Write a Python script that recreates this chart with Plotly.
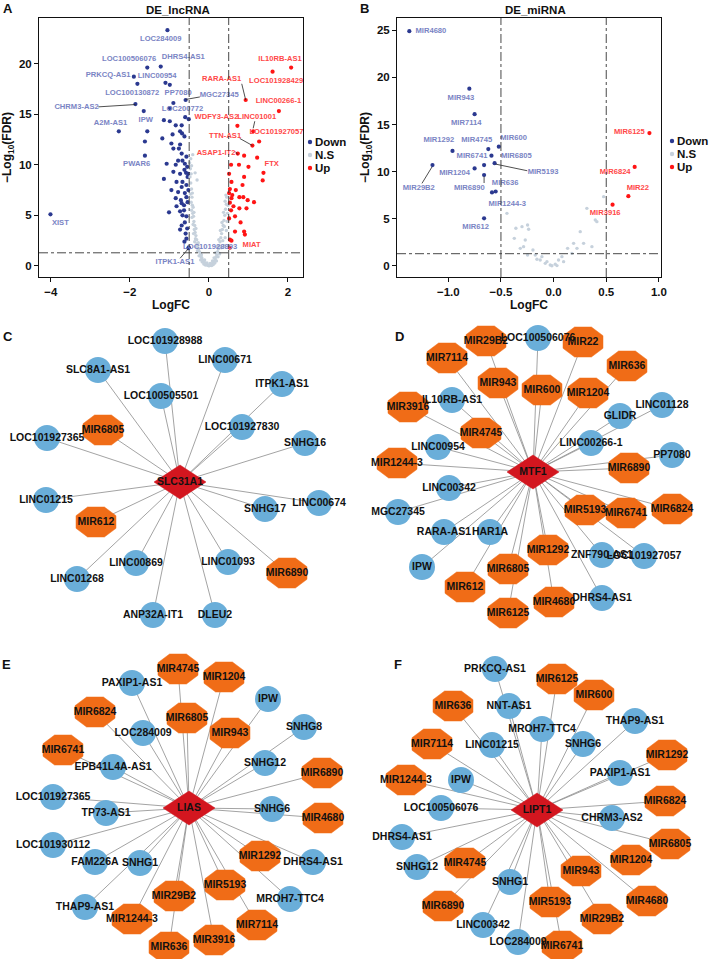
import plotly.graph_objects as go

W, H = 710, 959
FONT = "Liberation Sans, Arial, sans-serif"

# ---------------- A: DE_lncRNA volcano ----------------
a_down_fc = [-1.05, -1.56, -1.22, -1.90, -1.81, -1.10, -0.99, -0.59, -0.90, -1.86,
             -0.99, -1.65, -0.60, -0.51, -1.14, -0.99, -2.28, -1.56, -0.84, -0.69,
             -0.73, -0.68, -0.62, -0.92, -1.18, -1.62, -0.95, -0.73, -0.76, -1.62,
             -0.78, -0.67, -1.07, -0.84, -0.55, -0.62, -0.58, -0.52, -0.54, -1.14,
             -0.82, -0.67, -0.57, -0.95, -0.61, -0.84, -0.71, -0.69, -0.63, -0.63,
             -1.01, -0.73, -0.67, -0.61, -0.73, -0.59, -0.57, -0.52, -0.51, -4.01,
             -0.90, -0.69, -0.57, -0.61, -0.73, -0.90, -0.69, -0.52, -0.78, -0.57,
             -0.54, -0.82, -0.57, -0.69, -0.55, -0.62]
a_down_fdr = [23.3, 19.6, 19.7, 18.7, 18.0, 18.1, 17.9, 16.4, 16.1, 16.0,
              15.6, 15.3, 14.7, 14.5, 14.4, 14.3, 13.3, 13.3, 13.9, 13.9,
              13.3, 13.1, 12.8, 13.0, 12.6, 12.3, 12.1, 12.0, 11.6, 10.9,
              10.4, 10.4, 10.1, 10.0, 9.8, 9.5, 9.2, 9.1, 8.8, 8.6,
              8.3, 8.3, 8.0, 7.5, 7.2, 6.7, 6.5, 6.2, 6.0, 5.5,
              5.3, 5.4, 5.0, 4.3, 3.6, 3.2, 2.7, 1.75, 1.85, 5.1,
              11.6, 11.1, 10.8, 10.1, 9.1, 9.3, 7.8, 7.5, 7.3, 6.8,
              6.3, 5.9, 4.9, 4.0, 3.7, 2.4]

a_up_fc = [2.08, 1.61, 0.93, 1.77, 0.72, 1.12, 1.27, 1.10, 0.89, 0.73,
           1.22, 0.56, 0.76, 1.00, 0.51, 1.38, 1.36, 0.89, 0.57, 0.85,
           0.68, 0.51, 0.57, 0.77, 0.87, 0.98, 1.14, 0.53, 0.62, 0.56,
           0.77, 0.95, 0.51, 0.66, 0.80, 0.66, 0.89, 0.91, 0.53, 0.57,
           0.53, 0.59, 0.53]
a_up_fdr = [19.6, 19.2, 16.4, 15.3, 13.85, 13.3, 12.3, 11.9, 10.9, 11.1,
            10.7, 10.0, 10.0, 9.8, 9.1, 9.2, 8.45, 8.8, 8.3, 8.0,
            7.5, 7.2, 6.7, 6.8, 6.8, 6.5, 6.3, 6.25, 5.9, 5.5,
            5.7, 5.7, 4.7, 4.9, 4.3, 3.4, 3.4, 3.1, 2.6, 2.5,
            1.8, 7.0, 7.6]

a_ns_fc = [-0.49, -0.47, -0.48, -0.45, -0.46, -0.44, -0.47, -0.43, -0.45, -0.42,
           -0.44, -0.40, -0.41, -0.43, -0.39, -0.38, -0.40, -0.36, -0.37, -0.35,
           -0.39, -0.33, -0.34, -0.31, -0.36, -0.30, -0.28, -0.32, -0.26, -0.29,
           -0.24, -0.22, -0.25, -0.20, -0.18, -0.21, -0.16, -0.14, -0.17, -0.12,
           -0.10, -0.13, -0.08, -0.06, -0.09, -0.04, -0.02, -0.05, -0.11, -0.19,
           -0.27, -0.33, -0.38, -0.42, -0.46, -0.44, -0.35, -0.30, -0.41,
           0.00, 0.02, 0.04, 0.06, 0.03, 0.08, 0.10, 0.12, 0.09, 0.14,
           0.16, 0.13, 0.18, 0.20, 0.17, 0.22, 0.24, 0.21, 0.26, 0.28,
           0.25, 0.30, 0.32, 0.29, 0.34, 0.36, 0.33, 0.38, 0.40, 0.37,
           0.42, 0.44, 0.41, 0.45, 0.43, 0.47, 0.46, 0.44, 0.41, 0.39,
           0.35, 0.31, 0.27, 0.23, 0.19, 0.15, 0.11, 0.07, 0.48, 0.39]
a_ns_fdr = [10.2, 9.6, 8.8, 9.1, 8.2, 7.6, 7.1, 6.8, 6.3, 6.0,
            5.5, 5.8, 5.2, 4.8, 4.9, 4.4, 4.1, 4.0, 3.6, 3.3,
            3.2, 3.0, 2.7, 2.6, 2.4, 2.2, 2.0, 1.9, 1.7, 1.5,
            1.4, 1.2, 1.0, 0.9, 0.8, 0.6, 0.6, 0.5, 0.4, 0.35,
            0.3, 0.2, 0.2, 0.15, 0.1, 0.1, 0.05, 0.3, 0.6, 1.1,
            2.3, 3.7, 5.3, 7.2, 10.6, 9.9, 9.2, 8.5, 11.0,
            0.02, 0.05, 0.1, 0.15, 0.25, 0.2, 0.3, 0.4, 0.5, 0.5,
            0.7, 0.8, 0.9, 1.1, 1.3, 1.4, 1.7, 1.9, 2.0, 2.4,
            2.6, 2.8, 3.2, 3.5, 3.6, 4.0, 4.3, 4.5, 5.0, 5.3,
            5.6, 6.1, 6.4, 6.8, 7.0, 5.2, 4.4, 3.5, 2.8, 3.9,
            2.5, 1.8, 1.2, 0.9, 0.5, 0.3, 0.15, 0.05, 6.0, 2.0]

a_lab_down = ["LOC284009", "LOC100506076", "DHRS4-AS1", "PRKCQ-AS1", "LINC00954",
              "LOC100130872", "PP7080", "MGC27345", "CHRM3-AS2", "LOC200772",
              "A2M-AS1", "IPW", "PWAR6", "XIST", "LOC101928893", "ITPK1-AS1"]
a_lab_down_fc = [-1.22, -2.02, -0.65, -2.55, -1.31, -1.94, -0.78, 0.26, -3.35, -0.67,
                 -2.49, -1.60, -1.83, -3.76, 0.03, -0.86]
a_lab_down_fdr = [22.4, 20.4, 20.6, 18.9, 18.75, 17.1, 17.1, 16.9, 15.7, 15.5,
                  14.1, 14.4, 10.1, 4.2, 1.9, 0.43]
a_lab_up = ["IL10RB-AS1", "RARA-AS1", "LOC101928429", "LINC00266-1", "WDFY3-AS2",
            "LINC01001", "LOC101927057", "TTN-AS1", "ASAP1-IT2", "FTX", "MIAT"]
a_lab_up_fc = [1.80, 0.32, 1.70, 1.76, 0.19, 1.21, 1.71, 0.41, 0.18, 1.59, 1.08]
a_lab_up_fdr = [20.4, 18.5, 18.3, 16.3, 14.7, 14.7, 13.2, 12.8, 11.2, 10.1, 2.1]

# leader lines: label end -> point
a_lead_fc0 = [-2.80, -0.23, 0.83, 1.16, 0.78, 0.67, -0.73]
a_lead_fdr0 = [15.72, 16.7, 18.0, 14.3, 12.6, 11.3, 0.76]
a_lead_fc1 = [-1.86, -0.59, 0.93, 1.12, 1.10, 0.73, -0.52]
a_lead_fdr1 = [15.95, 16.45, 16.4, 13.6, 11.9, 11.0, 1.71]

# ---------------- B: DE_miRNA volcano ----------------
b_down_fc = [-1.37, -0.80, -0.75, -0.96, -0.52, -0.62, -0.59, -1.15, -0.75, -0.66,
             -0.56, -0.66, -0.585, -0.55, -0.66]
b_down_fdr = [24.9, 18.8, 16.1, 12.2, 12.65, 12.4, 11.7, 10.7, 10.35, 10.7,
              10.9, 9.65, 7.8, 7.9, 5.05]
b_up_fc = [0.91, 0.77, 0.71, 0.56]
b_up_fdr = [14.1, 10.5, 7.4, 6.5]
b_ns_fc = [-0.443, -0.373, -0.358, -0.30, -0.247, -0.237, -0.285, -0.247, -0.174, -0.316,
           -0.158, -0.127, -0.079, -0.032, 0.016, -0.063, 0.047, 0.079, 0.133, 0.19,
           0.222, 0.253, 0.285, 0.316, 0.364, 0.411, 0.475, 0.174, 0.095, -0.111,
           -0.196, -0.269, -0.016, 0.032, 0.396]
b_ns_fdr = [5.58, 2.93, 4.0, 4.17, 4.35, 3.9, 2.05, 1.17, 1.17, 1.87,
            0.71, 0.64, 0.28, 0.11, 0.18, 0.46, 0.64, 0.99, 1.87, 2.4,
            1.87, 3.64, 2.4, 6.11, 2.05, 4.7, 7.35, 1.34, 0.46, 0.99,
            1.7, 2.76, 0.02, 0.04, 4.88]

b_lab_down = ["MIR4680", "MIR943", "MIR7114", "MIR1292", "MIR4745", "MIR600", "MIR6741",
              "MIR6805", "MIR1204", "MIR5193", "MIR29B2", "MIR6890", "MIR636",
              "MIR1244-3", "MIR612"]
b_lab_down_fc = [-1.165, -0.88, -0.83, -1.09, -0.73, -0.38, -0.775, -0.354, -0.94, -0.10,
                 -1.28, -0.80, -0.46, -0.44, -0.74]
b_lab_down_fdr = [24.9, 17.8, 15.1, 13.3, 13.4, 13.6, 11.7, 11.7, 9.9, 10.0,
                  8.3, 8.3, 8.8, 6.6, 4.1]
b_lab_up = ["MIR6125", "MIR6824", "MIR22", "MIR3916"]
b_lab_up_fc = [0.72, 0.585, 0.80, 0.49]
b_lab_up_fdr = [14.2, 10.0, 8.3, 5.6]

b_lead_fc0 = [-1.25, -0.25, -0.66]
b_lead_fdr0 = [8.76, 10.1, 8.8]
b_lead_fc1 = [-1.155, -0.55, -0.66]
b_lead_fdr1 = [10.5, 10.8, 9.5]

# ---------------- C-F: hub networks (layout units, hub at 0,0) ----------------
c_hub = "SLC31A1"
c_nodes = ["LOC101928988", "LINC00671", "SLC8A1-AS1", "ITPK1-AS1", "LOC100505501",
           "MIR6805", "LOC101927830", "LOC101927365", "SNHG16", "LINC01215",
           "SNHG17", "LINC00674", "MIR612", "LINC00869", "LINC01093",
           "MIR6890", "LINC01268", "ANP32A-IT1", "DLEU2"]
c_dx = [-15, 45, -82, 102, -19, -77, 62, -133, 125, -134, 85, 139, -84, -44, 48, 107, -103, -27, 35]
c_dy = [141, 122, 112, 98, 86, 52, 55, 44, 39, -18, -27, -21, -40, -81, -80, -91, -97, -133, -133]

d_hub = "MTF1"
d_nodes = ["MIR29B2", "LOC100506076", "MIR22", "MIR7114", "MIR636", "MIR943", "MIR600",
           "MIR1204", "IL10RB-AS1", "MIR3916", "LINC01128", "GLIDR", "MIR4745",
           "LINC00954", "LINC00266-1", "PP7080", "MIR1244-3", "MIR6890", "LINC00342",
           "MIR5193", "MIR6741", "MIR6824", "MGC27345", "RARA-AS1", "HAR1A", "IPW",
           "MIR1292", "ZNF790-AS1", "LOC101927057", "MIR6805", "MIR612", "MIR4680",
           "DHRS4-AS1", "MIR6125"]
d_dx = [-47, 5, 50, -86, 94, -35, 9, 55, -81, -125, 129, 87, -52, -95, 58, 139, -136, 96,
        -84, 52, 93, 139, -135, -89, -43, -111, 15, 69, 111, -25, -68, 21, 69, -25]
d_dy = [131, 134, 130, 114, 106, 89, 82, 79, 72, 65, 67, 56, 39, 25, 29, 17, 9, 4,
        -16, -38, -41, -37, -40, -60, -60, -95, -78, -83, -84, -97, -115, -130, -126, -141]

e_hub = "LIAS"
e_nodes = ["MIR4745", "MIR1204", "PAXIP1-AS1", "IPW", "MIR6824", "MIR6805", "SNHG8",
           "LOC284009", "MIR943", "MIR6741", "EPB41L4A-AS1", "SNHG12", "MIR6890",
           "LOC101927365", "TP73-AS1", "SNHG6", "MIR4680", "LOC101930112", "FAM226A",
           "SNHG1", "MIR1292", "DHRS4-AS1", "MIR5193", "MIR29B2", "MROH7-TTC4",
           "THAP9-AS1", "MIR1244-3", "MIR7114", "MIR3916", "MIR636"]
e_dx = [-11, 35, -57, 79, -94, -2, 115, -46, 41, -126, -76, 76, 133, -136, -83, 83, 134,
        -136, -94, -49, 71, 124, 36, -15, 101, -104, -57, 68, 25, -20]
e_dy = [139, 131, 125, 109, 96, 90, 81, 75, 75, 58, 41, 45, 35, 11, -5, -1, -10,
        -37, -54, -55, -48, -54, -77, -88, -91, -99, -111, -117, -132, -139]

f_hub = "LIPT1"
f_nodes = ["PRKCQ-AS1", "MIR6125", "MIR600", "MIR636", "NNT-AS1", "THAP9-AS1",
           "MROH7-TTC4", "SNHG6", "MIR7114", "LINC01215", "MIR1292", "PAXIP1-AS1",
           "MIR1244-3", "IPW", "MIR6824", "LOC100506076", "CHRM3-AS2", "DHRS4-AS1",
           "MIR6805", "MIR1204", "SNHG12", "MIR4745", "MIR943", "SNHG1", "MIR4680",
           "MIR5193", "MIR6890", "MIR29B2", "LINC00342", "LOC284009", "MIR6741"]
f_dx = [-42, 20, 57, -84, -28, 98, 5, 46, -105, -45, 130, 83, -131, -76, 128, -96, 75,
        -135, 133, 94, -120, -72, 44, -27, 110, 13, -94, 65, -54, -19, 25]
f_dy = [141, 131, 115, 104, 104, 89, 81, 66, 66, 65, 55, 37, 30, 30, 9, 2, -8,
        -27, -34, -50, -57, -53, -61, -72, -91, -92, -96, -109, -115, -132, -136]

# ---------------- styles ----------------
DOWN_C, UP_C, NS_C = "#2b3990", "#ff1414", "#c6d1dc"
DOWN_LAB, UP_LAB = "#7a84c4", "#ff4848"
BLUE_N, ORANGE_N, RED_N = "#6aaed9", "#f06c17", "#d3161f"


def paper_x(p):
    return p / W


def paper_y(p):
    return 1 - p / H


fig = go.Figure()


def add_volcano(ax, leg, down, up, ns, lab_down, lab_up, leads):
    xa, ya = ("x", "y") if ax == 1 else (f"x{ax}", f"y{ax}")
    kw = dict(xaxis=xa, yaxis=ya, cliponaxis=False, hoverinfo="skip")
    fig.add_trace(go.Scatter(x=down[0], y=down[1], mode="markers", name="Down",
                             marker=dict(color=DOWN_C, size=4.2), showlegend=False, **kw))
    fig.add_trace(go.Scatter(x=ns[0], y=ns[1], mode="markers", name="N.S",
                             marker=dict(color=NS_C, size=3.4), showlegend=False, **kw))
    fig.add_trace(go.Scatter(x=up[0], y=up[1], mode="markers", name="Up",
                             marker=dict(color=UP_C, size=4.2), showlegend=False, **kw))
    lx, ly = [], []
    for x0, y0, x1, y1 in zip(*leads):
        lx += [x0, x1, None]
        ly += [y0, y1, None]
    fig.add_trace(go.Scatter(x=lx, y=ly, mode="lines", line=dict(color="#222", width=0.8),
                             showlegend=False, **kw))
    for names, xs, ys, col in [(lab_down[0], lab_down[1], lab_down[2], DOWN_LAB),
                               (lab_up[0], lab_up[1], lab_up[2], UP_LAB)]:
        fig.add_trace(go.Scatter(x=xs, y=ys, mode="text", text=names, textposition="middle center",
                                 textfont=dict(family=FONT, size=7.6, color=col, weight="bold"),
                                 showlegend=False, **kw))
    # threshold lines
    for xv in (-0.5, 0.5):
        fig.add_shape(type="line", xref=xa, yref=f"{ya} domain", x0=xv, x1=xv, y0=0, y1=1,
                      line=dict(color="#333", width=0.9, dash="dashdot"))
    fig.add_shape(type="line", xref=f"{xa} domain", yref=ya, x0=0, x1=1, y0=1.301, y1=1.301,
                  line=dict(color="#333", width=0.9, dash="dashdot"))
    # legend
    lx0, ly0 = leg
    for i, (txt, col) in enumerate([("Down", DOWN_C), ("N.S", NS_C), ("Up", UP_C)]):
        yy = paper_y(ly0 + 13 * i)
        fig.add_shape(type="circle", xref="paper", yref="paper", xsizemode="pixel",
                      ysizemode="pixel", xanchor=paper_x(lx0), yanchor=yy,
                      x0=-2.2, x1=2.2, y0=-2.2, y1=2.2, fillcolor=col, line=dict(width=0))
        fig.add_annotation(xref="paper", yref="paper", x=paper_x(lx0 + 3), y=yy, text=txt,
                           showarrow=False, xanchor="left", yanchor="middle",
                           font=dict(family=FONT, size=11.5, color="#111", weight="bold"))


add_volcano(1, (310, 142), (a_down_fc, a_down_fdr), (a_up_fc, a_up_fdr), (a_ns_fc, a_ns_fdr),
            (a_lab_down, a_lab_down_fc, a_lab_down_fdr), (a_lab_up, a_lab_up_fc, a_lab_up_fdr),
            (a_lead_fc0, a_lead_fdr0, a_lead_fc1, a_lead_fdr1))
add_volcano(2, (672, 141), (b_down_fc, b_down_fdr), (b_up_fc, b_up_fdr), (b_ns_fc, b_ns_fdr),
            (b_lab_down, b_lab_down_fc, b_lab_down_fdr), (b_lab_up, b_lab_up_fc, b_lab_up_fdr),
            (b_lead_fc0, b_lead_fdr0, b_lead_fc1, b_lead_fdr1))

# octagon / diamond outlines (half-size in layout px)
OCT = [(-0.42, 1), (0.42, 1), (1, 0.42), (1, -0.42), (0.42, -1), (-0.42, -1), (-1, -0.42), (-1, 0.42), (-0.42, 1)]
OW, OH = 20, 15
DW, DH = 26, 17


def add_network(ax, hub, names, dx, dy):
    kw = dict(xaxis=f"x{ax}", yaxis=f"y{ax}", cliponaxis=False, hoverinfo="skip", showlegend=False)
    ex, ey = [], []
    for x, y in zip(dx, dy):
        ex += [0, x, None]
        ey += [0, y, None]
    fig.add_trace(go.Scatter(x=ex, y=ey, mode="lines", line=dict(color="#8c8c8c", width=0.8), **kw))
    ox, oy = [], []
    cx, cy = [], []
    for n, x, y in zip(names, dx, dy):
        if n.startswith("MIR"):
            ox += [x + a * OW for a, b in OCT] + [None]
            oy += [y + b * OH for a, b in OCT] + [None]
        else:
            cx.append(x)
            cy.append(y)
    fig.add_trace(go.Scatter(x=ox, y=oy, mode="lines", fill="toself", fillcolor=ORANGE_N,
                             line=dict(color=ORANGE_N, width=0.5), **kw))
    fig.add_trace(go.Scatter(x=cx, y=cy, mode="markers",
                             marker=dict(color=BLUE_N, size=26, line=dict(width=0)), **kw))
    fig.add_trace(go.Scatter(x=[-DW, 0, DW, 0, -DW], y=[0, DH, 0, -DH, 0], mode="lines",
                             fill="toself", fillcolor=RED_N, line=dict(color=RED_N, width=0.5), **kw))
    fig.add_trace(go.Scatter(x=list(dx) + [0], y=list(dy) + [0], mode="text",
                             text=list(names) + [hub], textposition="middle center",
                             textfont=dict(family=FONT, size=10.5, color="#111", weight="bold"), **kw))


add_network(3, c_hub, c_nodes, c_dx, c_dy)
add_network(4, d_hub, d_nodes, d_dx, d_dy)
add_network(5, e_hub, e_nodes, e_dx, e_dy)
add_network(6, f_hub, f_nodes, f_dx, f_dy)

tick_font = dict(family=FONT, size=11.5, color="#111", weight="bold")
title_font = dict(family=FONT, size=12, color="#111", weight="bold")


def vaxis(px0, px1, rng, tickvals, fmt, title, anchor, standoff):
    return dict(domain=[px0 / W, px1 / W], range=rng, tickvals=tickvals, tickformat=fmt,
                showline=True, mirror=True, linecolor="#111", linewidth=1, ticks="outside",
                ticklen=4, tickcolor="#111", showgrid=False, zeroline=False, tickfont=tick_font,
                title=dict(text=title, font=title_font, standoff=standoff), anchor=anchor,
                automargin=False)


def vyaxis(rng, tickvals, anchor):
    return dict(domain=[paper_y(277), paper_y(18)], range=rng, tickvals=tickvals,
                showline=True, mirror=True, linecolor="#111", linewidth=1, ticks="outside",
                ticklen=4, tickcolor="#111", showgrid=False, zeroline=False, tickfont=tick_font,
                title=dict(text="\u2212Log<sub>10</sub>(FDR)", font=title_font, standoff=4),
                anchor=anchor, automargin=False)


def naxis_x(px0, px1, hub_px, anchor):
    return dict(domain=[px0 / W, px1 / W], range=[px0 - hub_px, px1 - hub_px],
                visible=False, anchor=anchor, fixedrange=True)


def naxis_y(py0, py1, hub_py, anchor):
    return dict(domain=[paper_y(py1), paper_y(py0)], range=[hub_py - py1, hub_py - py0],
                visible=False, anchor=anchor, fixedrange=True)


fig.update_layout(
    width=W, height=H, autosize=False,
    margin=dict(l=0, r=0, t=0, b=0),
    paper_bgcolor="white", plot_bgcolor="white",
    font=dict(family=FONT, color="#111"),
    showlegend=False,
    xaxis=vaxis(39, 303, [-4.3, 2.38], [-4, -2, 0, 2], "d", "LogFC", "y", 3),
    yaxis=vyaxis([-1.09, 24.5], [0, 5, 10, 15, 20], "x"),
    xaxis2=vaxis(397, 661, [-1.487, 1.02], [-1.0, -0.5, 0.0, 0.5, 1.0], ".1f", "LogFC", "y2", 3),
    yaxis2=vyaxis([-1.17, 26.3], [0, 5, 10, 15, 20, 25], "x2"),
    xaxis3=naxis_x(0, 355, 180, "y3"), yaxis3=naxis_y(320, 640, 482, "x3"),
    xaxis4=naxis_x(355, 710, 533, "y4"), yaxis4=naxis_y(320, 640, 472, "x4"),
    xaxis5=naxis_x(0, 355, 189, "y5"), yaxis5=naxis_y(648, 959, 808, "x5"),
    xaxis6=naxis_x(355, 710, 537, "y6"), yaxis6=naxis_y(648, 959, 810, "x6"),
)

# panel titles and letters
for txt, px, py in [("DE_lncRNA", 178, 10), ("DE_miRNA", 535, 10)]:
    fig.add_annotation(xref="paper", yref="paper", x=paper_x(px), y=paper_y(py), text=txt,
                       showarrow=False, xanchor="center", yanchor="middle",
                       font=dict(family=FONT, size=11.5, color="#111", weight="bold"))
for txt, px, py in [("A", 1, 9), ("B", 358, 9), ("C", 1, 336), ("D", 393, 336),
                    ("E", 0, 664), ("F", 392, 664)]:
    fig.add_annotation(xref="paper", yref="paper", x=paper_x(px), y=paper_y(py), text=txt,
                       showarrow=False, xanchor="left", yanchor="middle",
                       font=dict(family=FONT, size=13, color="#111", weight="bold"))

fig.write_html("out.html", config={"displayModeBar": False},
               post_script="document.body.style.margin='0px';"
                           "document.body.style.overflow='hidden';")
